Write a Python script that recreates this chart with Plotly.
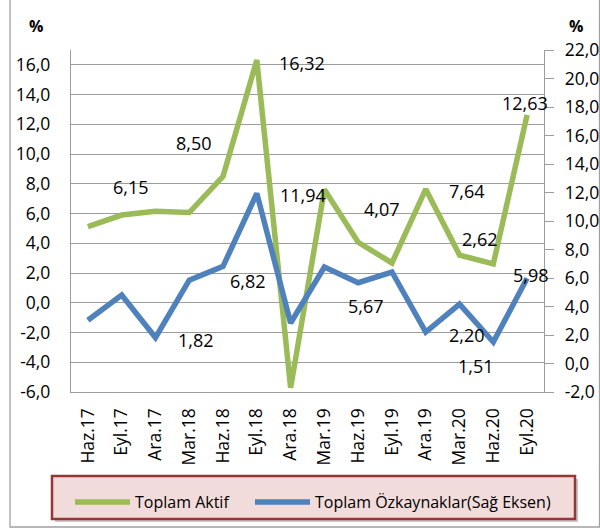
import plotly.graph_objects as go

# Quarterly growth rates (%)
categories = ["Haz.17", "Eyl.17", "Ara.17", "Mar.18", "Haz.18", "Eyl.18", "Ara.18",
              "Mar.19", "Haz.19", "Eyl.19", "Ara.19", "Mar.20", "Haz.20", "Eyl.20"]
toplam_aktif = [5.12, 5.90, 6.15, 6.07, 8.50, 16.32, -5.72,
                7.62, 4.07, 2.68, 7.64, 3.21, 2.62, 12.63]
ozkaynaklar = [3.04, 4.81, 1.82, 5.85, 6.82, 11.94, 2.84,
               6.77, 5.67, 6.42, 2.20, 4.17, 1.51, 5.98]

left_ticks = [-6, -4, -2, 0, 2, 4, 6, 8, 10, 12, 14, 16]
right_ticks = [-2, 0, 2, 4, 6, 8, 10, 12, 14, 16, 18, 20, 22]
labelled = [2, 4, 5, 8, 10, 12, 13]

GREEN = "#9BBB59"
BLUE = "#4F81BD"
GRID = "#9c9c9c"
FONT = "Open Sans"

W, H = 600, 529
ML, MR, MT, MB = 71, 56, 50, 137
PW, PH = W - ML - MR, H - MT - MB
LEFT_RANGE = [-6, 17]
RIGHT_RANGE = [-2, 22]


def px_x(x):
    return (x - ML) / PW


def px_y(y):
    return (H - MB - y) / PH


def fmt(v, nd=2):
    return f"{v:.{nd}f}".replace(".", ",")


# label offsets (pixels) for the value labels of each series
aktif_shift = {2: (-24, 24), 4: (-29, 33), 5: (45, -3), 8: (24, 33),
               10: (41, -2), 12: (-13, 25), 13: (-2, 12)}
ozk_shift = {2: (41, -2), 4: (25, -15), 5: (46, -2), 8: (8, -23),
             10: (41, -3), 12: (-17, -24), 13: (4, 3)}

fig = go.Figure()
fig.add_trace(go.Scatter(x=categories, y=toplam_aktif, name="Toplam Aktif",
                         mode="lines", line=dict(color=GREEN, width=5.5),
                         xaxis="x", yaxis="y", legend="legend"))
fig.add_trace(go.Scatter(x=categories, y=ozkaynaklar,
                         name="Toplam Özkaynaklar(Sağ Eksen)",
                         mode="lines", line=dict(color=BLUE, width=5.5),
                         xaxis="x", yaxis="y2", legend="legend2"))

label_font = dict(family=FONT, size=18, color="#000")
annotations = []
for i in labelled:
    dx, dy = aktif_shift[i]
    annotations.append(dict(x=categories[i], y=toplam_aktif[i], xref="x", yref="y",
                            text=fmt(toplam_aktif[i]), showarrow=False,
                            xshift=dx, yshift=dy, font=label_font))
    dx, dy = ozk_shift[i]
    annotations.append(dict(x=categories[i], y=ozkaynaklar[i], xref="x", yref="y2",
                            text=fmt(ozkaynaklar[i]), showarrow=False,
                            xshift=dx, yshift=dy, font=label_font))

for xp in (36, 576):
    annotations.append(dict(x=px_x(xp), y=px_y(26), xref="paper", yref="paper",
                            xanchor="center", yanchor="middle",
                            text="<b>%</b>", showarrow=False,
                            font=dict(family=FONT, size=16, color="#000")))

shapes = [
    # outer chart frame
    dict(type="rect", xref="paper", yref="paper", layer="below",
         x0=px_x(10), x1=px_x(599.5), y0=px_y(527), y1=px_y(-3),
         line=dict(color="#a0a0a0", width=1.3), fillcolor="rgba(0,0,0,0)"),
    # legend shadow and box
    dict(type="rect", xref="paper", yref="paper", layer="below",
         x0=px_x(55), x1=px_x(578), y0=px_y(522), y1=px_y(479),
         line=dict(width=0), fillcolor="#c8c8c8"),
    dict(type="rect", xref="paper", yref="paper", layer="below",
         x0=px_x(52), x1=px_x(575), y0=px_y(519), y1=px_y(476),
         line=dict(color="#953735", width=2.5), fillcolor="#F2DCDB"),
]

axis_font = dict(family=FONT, size=17.5, color="#000")
legend_font = dict(family=FONT, size=16, color="#000")
legend_common = dict(orientation="h", yanchor="top", xanchor="left", y=px_y(485),
                     bgcolor="rgba(0,0,0,0)", borderwidth=0, font=legend_font,
                     itemwidth=55)

fig.update_layout(
    width=W, height=H,
    margin=dict(l=ML, r=MR, t=MT, b=MB, pad=0, autoexpand=False),
    paper_bgcolor="white", plot_bgcolor="white",
    font=dict(family=FONT, size=16, color="#000"),
    showlegend=True,
    legend=dict(x=px_x(70), **legend_common),
    legend2=dict(x=px_x(250), **legend_common),
    xaxis=dict(type="category", categoryorder="array", categoryarray=categories,
               range=[-0.5, len(categories) - 0.5], tickangle=-90,
               ticks="", showgrid=False, zeroline=False,
               showline=True, linecolor=GRID, linewidth=1.3,
               tickfont=axis_font, ticklabelstandoff=8),
    xaxis2=dict(type="category", categoryorder="array", categoryarray=categories,
                range=[-0.5, len(categories) - 0.5], overlaying="x",
                anchor="free", position=(0 - LEFT_RANGE[0]) / (LEFT_RANGE[1] - LEFT_RANGE[0]),
                ticks="outside", ticklen=5, tickcolor=GRID, tickwidth=1.3,
                tickson="boundaries", showticklabels=False,
                showgrid=False, zeroline=False, showline=False),
    yaxis=dict(range=LEFT_RANGE, tickvals=left_ticks,
               ticktext=[fmt(v, 1) for v in left_ticks],
               showgrid=True, gridcolor=GRID, gridwidth=1.3, zeroline=False,
               showline=True, linecolor=GRID, linewidth=1.3, ticks="",
               tickfont=axis_font, ticklabelstandoff=16),
    yaxis2=dict(range=RIGHT_RANGE, tickvals=right_ticks,
                ticktext=[fmt(v, 1) for v in right_ticks],
                overlaying="y", side="right", anchor="x",
                showgrid=False, zeroline=False,
                showline=True, linecolor=GRID, linewidth=1.3,
                ticks="outside", ticklen=9, tickcolor=GRID, tickwidth=1.3,
                tickfont=axis_font, ticklabelstandoff=7),
    annotations=annotations,
    shapes=shapes,
)

fig.write_html("out.html")
